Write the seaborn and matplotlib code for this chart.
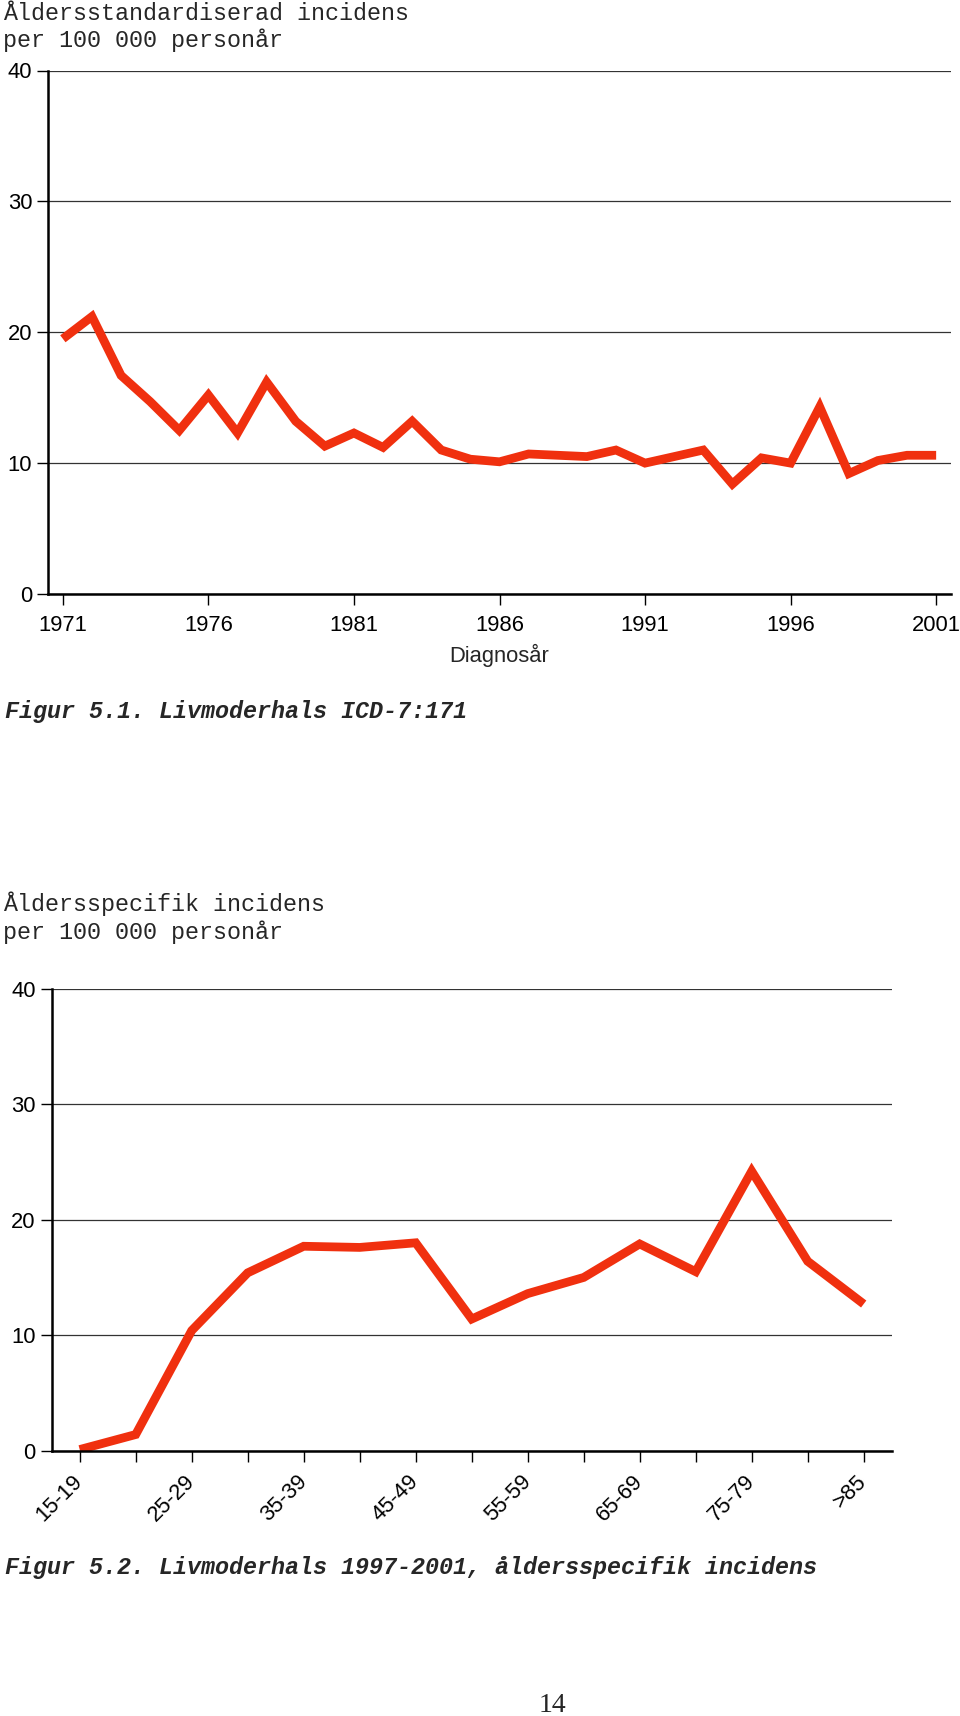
import matplotlib
matplotlib.use("Agg")
import matplotlib.pyplot as plt
import numpy as np
import pandas as pd
import seaborn as sns

# ---- data ----
years = list(range(1971, 2002))
incidence_std = [19.5, 21.2, 16.7, 14.7, 12.5, 15.2, 12.3, 16.2, 13.2, 11.3,
                 12.3, 11.2, 13.2, 11.0, 10.3, 10.1, 10.7, 10.6, 10.5, 11.0,
                 10.0, 10.5, 11.0, 8.4, 10.4, 10.0, 14.3, 9.2, 10.2, 10.6, 10.6]
year_ticks = [1971, 1976, 1981, 1986, 1991, 1996, 2001]

age_groups = ["15-19", "20-24", "25-29", "30-34", "35-39", "40-44", "45-49",
              "50-54", "55-59", "60-64", "65-69", "70-74", "75-79", "80-84", ">85"]
incidence_age = [0.1, 1.4, 10.4, 15.4, 17.7, 17.6, 18.0, 11.4, 13.6, 15.0,
                 17.9, 15.5, 24.2, 16.4, 12.7]
y_ticks = [0, 10, 20, 30, 40]

sns.set_theme(style="white")
plt.rcParams["font.family"] = ["Liberation Sans", "DejaVu Sans"]

RED = "#F0300F"
W, H = 960, 1716
fig = plt.figure(figsize=(W / 100, H / 100), dpi=100)
TICK_FS = 15.8

def fy(px):
    return 1 - px / H

def style_axes(ax):
    ax.set_ylim(0, 40)
    ax.set_yticks(y_ticks)
    ax.yaxis.grid(True, color="#333333", linewidth=0.9)
    ax.xaxis.grid(False)
    for s in ["top", "right"]:
        ax.spines[s].set_visible(False)
    for s in ["left", "bottom"]:
        ax.spines[s].set_color("black")
        ax.spines[s].set_linewidth(1.8)
    ax.tick_params(axis="both", which="both", direction="out", length=8,
                   width=1.0, color="black", labelsize=TICK_FS, labelcolor="black",
                   left=True, bottom=True)
    ax.tick_params(axis="y", pad=3.5)
    ax.set_facecolor("white")

# ---- top chart ----
ax1 = fig.add_axes([48.3 / W, fy(594), (950.7 - 48.3) / W, (594 - 70.5) / H])
df1 = pd.DataFrame({"year": years, "value": incidence_std})
sns.lineplot(data=df1, x="year", y="value", ax=ax1, color=RED, linewidth=6.3)
for ln in ax1.lines:
    ln.set_solid_capstyle("butt")
    ln.set_solid_joinstyle("miter")
style_axes(ax1)
ax1.set_xlim(1970.5, 2001.5)
ax1.set_xticks(year_ticks)
ax1.set_xticklabels([str(y) for y in year_ticks])
ax1.tick_params(axis="x", pad=7)
ax1.set_xlabel("Diagnosår", fontsize=TICK_FS, labelpad=6)
ax1.set_ylabel("")

# ---- bottom chart ----
ax2 = fig.add_axes([51.7 / W, fy(1450.7), (891.7 - 51.7) / W, (1450.7 - 988.7) / H])
pos = list(range(len(age_groups)))
df2 = pd.DataFrame({"pos": pos, "value": incidence_age})
sns.lineplot(data=df2, x="pos", y="value", ax=ax2, color=RED, linewidth=6.3)
for ln in ax2.lines:
    ln.set_solid_capstyle("butt")
    ln.set_solid_joinstyle("miter")
style_axes(ax2)
ax2.set_xlim(-0.5, len(age_groups) - 0.5)
ax2.set_xticks(pos)
ax2.set_xticklabels([g if i % 2 == 0 else "" for i, g in enumerate(age_groups)],
                    rotation=45, ha="right", va="center", rotation_mode="anchor")
ax2.tick_params(axis="x", pad=12)
ax2.set_xlabel("")
ax2.set_ylabel("")

# ---- texts ----
mono = ["Liberation Mono", "DejaVu Sans Mono"]
fs = 16.8
fig.text(3 / W, fy(19.5), "Åldersstandardiserad incidens", family=mono, fontsize=fs, va="baseline")
fig.text(3 / W, fy(46.5), "per 100 000 personår", family=mono, fontsize=fs, va="baseline")
fig.text(5 / W, fy(718), "Figur 5.1. Livmoderhals ICD-7:171", family=mono, fontsize=fs,
         style="italic", weight="bold", va="baseline")
fig.text(3 / W, fy(910.5), "Åldersspecifik incidens", family=mono, fontsize=fs, va="baseline")
fig.text(3 / W, fy(938.5), "per 100 000 personår", family=mono, fontsize=fs, va="baseline")
fig.text(5 / W, fy(1574), "Figur 5.2. Livmoderhals 1997-2001, åldersspecifik incidens",
         family=mono, fontsize=fs, style="italic", weight="bold", va="baseline")
fig.text(552 / W, fy(1712), "14", family=["Liberation Serif", "DejaVu Serif"],
         fontsize=20, ha="center", va="baseline")

fig.savefig("out.png", dpi=100, facecolor="white")
